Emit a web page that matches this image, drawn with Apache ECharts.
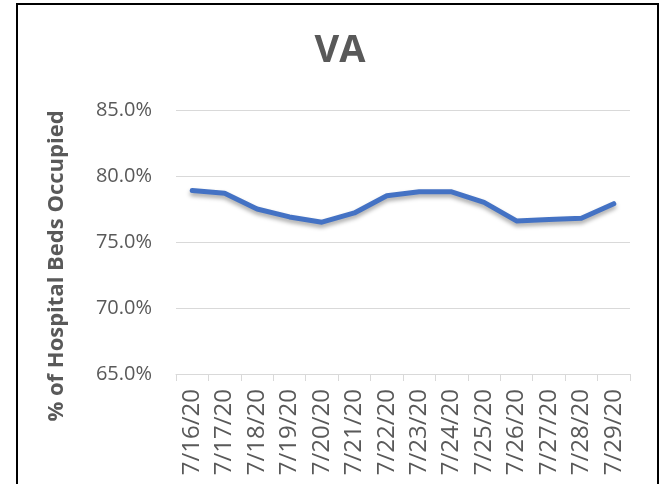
<!DOCTYPE html>
<html>
<head>
<meta charset="utf-8">
<script src="https://cdn.jsdelivr.net/npm/echarts@6/dist/echarts.min.js"></script>
<style>
  html, body { margin: 0; padding: 0; background: #fff; }
  #main { width: 660px; height: 484px; }
</style>
</head>
<body>
<div id="main"></div>
<script>
// dates along the x axis
var dates = ['7/16/20', '7/17/20', '7/18/20', '7/19/20', '7/20/20', '7/21/20', '7/22/20',
             '7/23/20', '7/24/20', '7/25/20', '7/26/20', '7/27/20', '7/28/20', '7/29/20'];
// % of hospital beds occupied
var occupied = [78.9, 78.7, 77.5, 76.9, 76.5, 77.2, 78.5, 78.8, 78.8, 78.0, 76.6, 76.7, 76.8, 77.9];
var yMin = 65, yMax = 85, yStep = 5;

var myChart = echarts.init(document.getElementById('main'));
var option = {
  backgroundColor: '#fff',
  animation: false,
  graphic: [{
    type: 'rect',
    shape: { x: 17, y: 4, width: 641, height: 490 },
    style: { fill: 'none', stroke: '#000', lineWidth: 2 },
    silent: true
  }],
  title: {
    text: 'VA',
    left: 335,
    top: 27,
    textAlign: 'center',
    textStyle: { fontFamily: 'Open Sans', fontSize: 38, fontWeight: 'bold', color: '#595959' }
  },
  grid: { left: 176, right: 30, top: 110, bottom: 110 },
  xAxis: {
    type: 'category',
    data: dates,
    boundaryGap: true,
    axisLine: { lineStyle: { color: '#d9d9d9', width: 1 } },
    axisTick: { show: true, length: 7, lineStyle: { color: '#d9d9d9' } },
    axisLabel: {
      rotate: 90, interval: 0, margin: 15,
      fontFamily: 'Open Sans', fontSize: 24, color: '#595959'
    }
  },
  yAxis: {
    type: 'value',
    min: yMin, max: yMax, interval: yStep,
    name: '% of Hospital Beds Occupied',
    nameLocation: 'middle',
    nameGap: 108,
    nameTextStyle: {
      fontFamily: 'Open Sans', fontSize: 22, fontWeight: 'bold', color: '#595959',
      padding: [0, 48, 0, 0]
    },
    axisLine: { show: false },
    axisTick: { show: false },
    splitLine: { lineStyle: { color: '#d9d9d9', width: 1 } },
    axisLabel: {
      margin: 24,
      fontFamily: 'Open Sans', fontSize: 20, color: '#595959',
      formatter: function (v) { return v.toFixed(1) + '%'; }
    }
  },
  series: [{
    type: 'line',
    data: occupied,
    symbol: 'none',
    lineStyle: {
      color: '#4472C4', width: 5, cap: 'round', join: 'round',
      shadowColor: 'rgba(0,0,0,0.35)', shadowBlur: 4, shadowOffsetY: 3
    }
  }]
};
myChart.setOption(option);
</script>
</body>
</html>
